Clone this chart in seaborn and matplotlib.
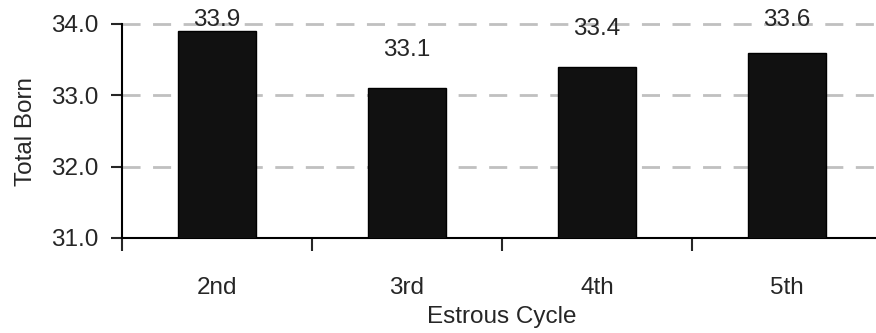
import matplotlib
matplotlib.use("Agg")
import matplotlib.pyplot as plt
import seaborn as sns
import pandas as pd
import numpy as np

cycles = ["2nd", "3rd", "4th", "5th"]
total_born = [33.9, 33.1, 33.4, 33.6]
y_ticks = [31.0, 32.0, 33.0, 34.0]

sns.set_style("white")
plt.rcParams["font.family"] = ["Liberation Sans", "DejaVu Sans"]
FS = 17.5

df = pd.DataFrame({"cycle": cycles, "total": total_born})

fig = plt.figure(figsize=(8.76, 3.33), dpi=100)
ax = fig.add_axes([122 / 876, 95 / 333, 760 / 876, 214 / 333])

sns.barplot(data=df, x="cycle", y="total", color="#111111", edgecolor="black",
            linewidth=1, width=0.41, ax=ax, zorder=3)

ax.set_ylim(31, 34)
ax.set_xlim(-0.5, 3.5)
ax.set_yticks(y_ticks)
ax.set_yticklabels([f"{t:.1f}" for t in y_ticks], fontsize=FS)

# dashed gray grid lines, skipping the baseline
for t in y_ticks[1:]:
    ax.axhline(t, color="#c0c0c0", lw=2, ls=(0, (6.5, 4.5)), zorder=1, clip_on=False)

# boundaries as major ticks, category names on minor ticks
ax.set_xticks(np.arange(-0.5, len(cycles), 1.0))
ax.set_xticklabels([])
ax.set_xticks(range(len(cycles)), minor=True)
ax.set_xticklabels(cycles, minor=True, fontsize=FS)
ax.tick_params(axis="x", which="major", direction="out", length=9, width=1.5, bottom=True)
ax.tick_params(axis="x", which="minor", length=0, pad=28)
ax.tick_params(axis="y", direction="out", length=8, width=1.5, left=True, pad=9)

for side in ["top", "right"]:
    ax.spines[side].set_visible(False)
for side in ["left", "bottom"]:
    ax.spines[side].set_linewidth(1.5)
    ax.spines[side].set_color("black")

ax.set_xlabel("Estrous Cycle", fontsize=FS, labelpad=5)
ax.set_ylabel("Total Born", fontsize=FS, labelpad=10)

for i, v in enumerate(total_born):
    ax.text(i, min(v + 0.53, 34.06), f"{v:.1f}", ha="center", va="center",
            fontsize=FS, zorder=4, clip_on=False)

fig.savefig("out.png", dpi=100)
